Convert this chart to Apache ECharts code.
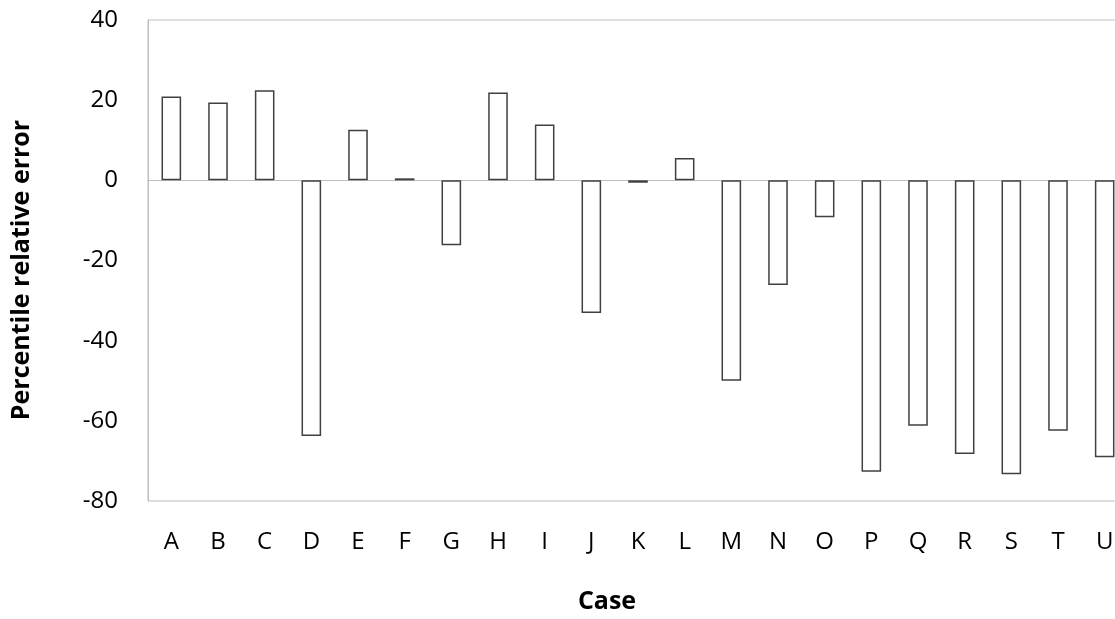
<!DOCTYPE html>
<html>
<head>
<meta charset="utf-8">
<script src="https://cdn.jsdelivr.net/npm/echarts@6/dist/echarts.min.js"></script>
<style>
  html, body { margin: 0; padding: 0; background: #ffffff; overflow: hidden; }
  /* the plot runs slightly past the right edge of the window */
  #chart { width: 1129px; height: 619px; }
</style>
</head>
<body>
<div id="chart"></div>
<script>
// Case labels along the horizontal axis
const cases = ['A', 'B', 'C', 'D', 'E', 'F', 'G', 'H', 'I', 'J', 'K',
               'L', 'M', 'N', 'O', 'P', 'Q', 'R', 'S', 'T', 'U'];

// Percentile relative error for each case
const relativeError = [20.9, 19.4, 22.5, -63.8, 12.6, 0.5, -16.2, 21.9, 13.9, -33.1, -0.6,
                       5.6, -50.0, -26.1, -9.2, -72.7, -61.2, -68.3, -73.3, -62.5, -69.1];

// Value axis range and step
const yMin = -80;
const yMax = 40;
const yStep = 20;

const axisGrey = '#bfbfbf';
const textFont = '"Open Sans", "DejaVu Sans", sans-serif';

const chart = echarts.init(document.getElementById('chart'), null, { renderer: 'canvas' });

chart.setOption({
  animation: false,
  backgroundColor: '#ffffff',
  grid: {
    left: 148,
    top: 20,
    right: 1,
    bottom: 118,
    show: true,
    borderColor: axisGrey,
    borderWidth: 1,
    backgroundColor: 'transparent'
  },
  xAxis: [
    {
      type: 'category',
      data: cases,
      position: 'bottom',
      axisLine: { show: false, onZero: false },
      axisTick: { show: false },
      axisLabel: {
        color: '#000000',
        fontFamily: textFont,
        fontSize: 24,
        margin: 29
      }
    },
    {
      // horizontal axis line crossing at zero
      type: 'category',
      data: cases,
      position: 'bottom',
      axisLine: { show: true, onZero: true, lineStyle: { color: axisGrey, width: 1 } },
      axisTick: { show: false },
      axisLabel: { show: false }
    }
  ],
  yAxis: {
    type: 'value',
    min: yMin,
    max: yMax,
    interval: yStep,
    axisLine: { show: true, lineStyle: { color: axisGrey, width: 1 } },
    axisTick: { show: false },
    splitLine: { show: false },
    axisLabel: {
      color: '#000000',
      fontFamily: textFont,
      fontSize: 24,
      margin: 30
    }
  },
  graphic: [
    {
      type: 'text',
      x: 22,
      y: 270,
      rotation: Math.PI / 2,
      style: {
        text: 'Percentile relative error',
        font: 'bold 25px ' + textFont,
        fill: '#000000',
        textAlign: 'center',
        textVerticalAlign: 'middle'
      }
    },
    {
      type: 'text',
      x: 607,
      y: 602,
      style: {
        text: 'Case',
        font: 'bold 25px ' + textFont,
        fill: '#000000',
        textAlign: 'center',
        textVerticalAlign: 'middle'
      }
    }
  ],
  series: [
    {
      type: 'bar',
      xAxisIndex: 0,
      data: relativeError,
      barWidth: '42%',
      itemStyle: {
        color: '#ffffff',
        borderColor: '#404040',
        borderWidth: 1.5
      },
      z: 3
    }
  ]
});
</script>
</body>
</html>
